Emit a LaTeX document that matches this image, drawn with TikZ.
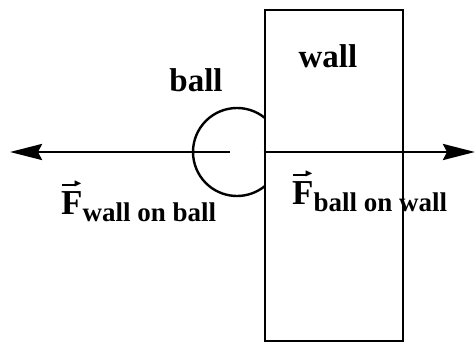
\documentclass[tikz,border=0pt]{standalone}
\usepackage{fontspec}
\usepackage{amssymb}
\setmainfont{Liberation Serif}
\usetikzlibrary{arrows.meta}
\newcommand{\FL}{\fontsize{33}{38}\selectfont\bfseries}
\newcommand{\FF}{\fontsize{35}{40}\selectfont\bfseries}
\newcommand{\FS}{\fontsize{27}{30}\selectfont\bfseries}
% F with a small arrow over it, subscript a bit lower
\newcommand{\force}[1]{\FF\setbox0\hbox{F}%
  \vbox{\offinterlineskip\hbox to\wd0{\hfil\rule{14pt}{1.8pt}\kern-2pt\raisebox{-1.2pt}{\scalebox{0.3}{$\blacktriangleright$}}\hfil}\kern5pt\box0}%
  \raisebox{-7pt}{\FS#1}}

\begin{document}
\begin{tikzpicture}[x=1pt,y=1pt]
\tikzstyle{texto}=[draw=none,fill=none,black,inner sep=0pt]
\tikzstyle{line}=[black,line width=2.8pt]
\tikzstyle{forca}=[line,-{Stealth[length=32pt,width=16pt,inset=4pt]}]

\useasboundingbox (0,0) rectangle (476,345);

\coordinate (ballc) at (237,193);
\coordinate (ballend) at (230,193);
\coordinate (lefttip) at (10,193);
\coordinate (righttip) at (475,193);

\node[line,draw,inner sep=0pt,minimum width=138,minimum height=331] (wallbox) at (334,169.5) {};

\draw[line,line width=2.4pt] (ballc) ++(50.5:44) arc[start angle=50.5,end angle=309.5,radius=44];
\draw[forca] (ballend) -- (lefttip);
\draw[forca] (wallbox.west |- ballc) -- (righttip);

\node[texto,anchor=base,font=\FL] (balllab) at (196,253) {ball};
\node[texto,anchor=base,font=\FL] (walllab) at (328,277) {wall};
\node[texto,anchor=base west] (fwb) at (61,130) {\force{wall on ball}};
\node[texto,anchor=base west] (fbw) at (292,140) {\force{ball on wall}};
\end{tikzpicture}
\end{document}
